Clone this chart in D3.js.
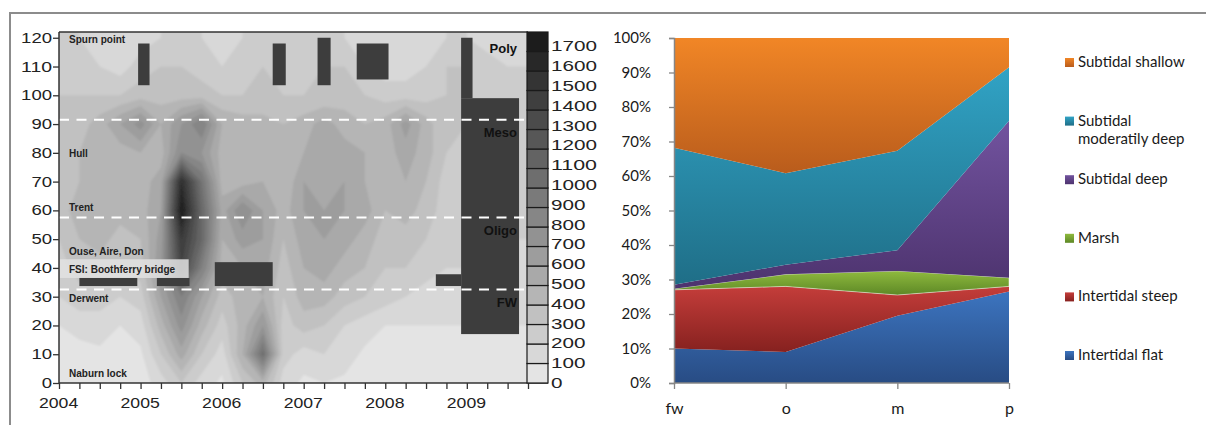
<!DOCTYPE html>
<html>
<head>
<meta charset="utf-8">
<script src="https://cdn.jsdelivr.net/npm/d3@7"></script>
<style>
  body { margin: 0; background: #fff; }
  svg { display: block; }
</style>
</head>
<body>
<script>
const years = [2004, 2004.25, 2004.5, 2004.75, 2005, 2005.25, 2005.5, 2005.75,
  2006, 2006.25, 2006.5, 2006.75, 2007, 2007.25, 2007.5, 2007.75,
  2008, 2008.25, 2008.5, 2008.75, 2009, 2009.25, 2009.5, 2009.75]
const kms = [120, 110, 100, 90, 80, 70, 60, 50, 40, 30, 20, 10, 0]
const heat = [
  [200,200,150,120,150,200,250,200,150,200,250,200,200,250,200,150,120,120,150,200,200,150,150,150],
  [250,250,200,150,250,300,300,250,200,250,300,250,250,300,300,200,150,150,200,300,300,250,200,200],
  [300,300,300,300,350,350,350,350,300,300,300,300,300,300,350,300,250,250,250,300,300,250,200,200],
  [300,350,450,600,750,500,700,900,500,450,450,400,450,550,450,400,450,650,450,300,300,250,250,250],
  [350,400,400,450,500,450,800,700,450,400,450,400,500,550,550,500,450,550,450,300,250,250,250,250],
  [350,400,450,400,450,550,1600,1000,450,450,500,400,600,550,600,500,450,500,400,250,250,250,200,200],
  [350,450,500,450,450,600,1750,1100,550,800,600,450,600,600,600,550,400,450,350,250,250,200,200,200],
  [300,400,450,350,400,650,1500,1100,500,650,600,400,550,600,550,450,350,350,300,200,200,200,200,200],
  [250,350,350,300,350,700,1400,900,450,500,550,350,500,550,450,400,300,300,250,200,200,150,150,150],
  [200,250,250,200,250,600,900,600,350,450,500,300,450,450,350,300,250,200,150,150,150,100,100,100],
  [100,150,150,100,150,450,750,450,250,450,700,250,350,300,200,150,100,100,100,100,100,100,100,100],
  [50,50,80,50,80,300,550,300,150,500,1050,250,150,200,150,80,50,50,50,50,50,50,50,50],
  [50,50,50,50,50,150,300,150,80,300,450,150,80,100,80,50,50,50,50,50,50,50,50,50]
]
const levels = d3.range(0, 1800, 100)
const yearTicks = [2004, 2005, 2006, 2007, 2008, 2009]
const kmTicks = d3.range(0, 121, 10)

// blocked-out periods: [from year, to year, from km, to km]
const gaps = [
  [2004.97, 2005.11, 103.5, 118],
  [2006.62, 2006.78, 103.5, 118],
  [2007.17, 2007.33, 103.5, 120],
  [2007.65, 2008.04, 105.5, 118],
  [2008.93, 2009.07, 99, 120],
  [2008.93, 2009.64, 17, 99],
  [2008.62, 2008.93, 33.7, 37.8],
  [2004.25, 2004.96, 33.7, 36.5],
  [2005.2, 2005.6, 33.7, 36.5],
  [2005.91, 2006.62, 33.7, 42]
]
const zoneLines = [91.5, 57.5, 32.5]
const zoneNames = ["Poly", "Meso", "Oligo", "FW"]
const zoneKm = [114.7, 85.5, 51.4, 26.4]
const places = ["Spurn point", "Hull", "Trent", "Ouse, Aire, Don", "FSI: Boothferry bridge", "Derwent", "Naburn lock"]
const placeKm = [118.2, 78.6, 59.8, 44.5, 38.2, 28.2, 2.1]

// ---- right panel: habitat shares per salinity zone (%) ----
const zones = ["fw", "o", "m", "p"]
const habitats = ["Intertidal flat", "Intertidal steep", "Marsh", "Subtidal deep", "Subtidal moderatily deep", "Subtidal shallow"]
const intertidalFlat = [10, 9, 19.5, 26.5]
const intertidalSteep = [17, 19, 6, 1.5]
const marsh = [0.3, 3.5, 7, 2.5]
const subtidalDeep = [1.2, 2.8, 6, 45.5]
const subtidalModerate = [39.7, 26.5, 28.8, 15.5]
const subtidalShallow = [31.8, 39.2, 32.7, 8.5]
const pctTicks = d3.range(0, 101, 10)

const seriesValues = [intertidalFlat, intertidalSteep, marsh, subtidalDeep, subtidalModerate, subtidalShallow]
const gradTop = ["#3c74bf", "#c43d3a", "#8fba3e", "#72539f", "#31a3c5", "#f18626"]
const gradBottom = ["#284c84", "#86211f", "#5d8826", "#4d336e", "#1f6e87", "#b95c1c"]

const W = 1206, H = 425
const svg = d3.select("body").append("svg").attr("width", W).attr("height", H)
const defs = svg.append("defs")

// outer frame
svg.append("line").attr("x1", 10).attr("x2", W).attr("y1", 13).attr("y2", 13)
  .attr("stroke", "#8c8c8c").attr("stroke-width", 2)
svg.append("line").attr("x1", 10).attr("x2", 10).attr("y1", 12).attr("y2", H)
  .attr("stroke", "#8c8c8c").attr("stroke-width", 2)

// ================= left panel =================
const x = d3.scaleLinear().domain([2004, 2009.75]).range([59, 528])
const y = d3.scaleLinear().domain([0, 122]).range([383, 32])
const grey = k => { const g = Math.round(228 - k * 200 / 17); return d3.rgb(g, g, g).toString() }

defs.append("clipPath").attr("id", "plotclip").append("rect")
  .attr("x", x(2004)).attr("y", y(122)).attr("width", x(2009.75) - x(2004)).attr("height", y(0) - y(122))
defs.append("filter").attr("id", "soft").append("feGaussianBlur").attr("stdDeviation", 1.2)

const nx = years.length, ny = kms.length
const contours = d3.contours().size([nx, ny]).thresholds(levels)(heat.flat())
const gx = d3.scaleLinear().domain([0.5, nx - 0.5]).range([x(years[0]), x(years[nx - 1])])
const gy = d3.scaleLinear().domain([0.5, ny - 0.5]).range([y(kms[0]), y(kms[ny - 1])])
const proj = d3.geoTransform({ point(px, py) { this.stream.point(gx(px), gy(py)) } })
const geo = d3.geoPath(proj)

const plot = svg.append("g").attr("clip-path", "url(#plotclip)")
plot.append("rect").attr("x", 40).attr("y", 20).attr("width", 520).attr("height", 380).attr("fill", grey(1))
plot.append("g").attr("filter", "url(#soft)")
  .selectAll("path").data(contours).join("path")
  .attr("d", geo)
  .attr("fill", (d, i) => grey(i))

// light box behind the FSI label
plot.append("rect")
  .attr("x", x(2004.01)).attr("y", y(43)).attr("width", x(2005.59) - x(2004.01)).attr("height", y(36.5) - y(43))
  .attr("fill", "#e2e2e2").attr("opacity", 0.85)

plot.selectAll("rect.gap").data(gaps).join("rect").attr("class", "gap")
  .attr("x", d => x(d[0])).attr("width", d => x(d[1]) - x(d[0]))
  .attr("y", d => y(d[3])).attr("height", d => y(d[2]) - y(d[3]))
  .attr("fill", "#3d3d3d")

plot.selectAll("line.zone").data(zoneLines).join("line").attr("class", "zone")
  .attr("x1", x(2004)).attr("x2", x(2009.75) - 3)
  .attr("y1", d => y(d)).attr("y2", d => y(d))
  .attr("stroke", "#fff").attr("stroke-width", 2).attr("stroke-dasharray", "10,7.5")

svg.append("g").selectAll("text").data(places).join("text")
  .attr("x", 69).attr("y", (d, i) => y(placeKm[i]))
  .attr("font-family", "Liberation Sans, Arial, sans-serif").attr("font-weight", "bold")
  .attr("font-size", 10).attr("fill", "#222").text(d => d)

svg.append("g").selectAll("text").data(zoneNames).join("text")
  .attr("x", 517).attr("y", (d, i) => y(zoneKm[i])).attr("text-anchor", "end")
  .attr("font-family", "Liberation Sans, Arial, sans-serif").attr("font-weight", "bold")
  .attr("font-size", 13).attr("fill", "#111").text(d => d)

// plot frame top
svg.append("line").attr("x1", x(2004)).attr("x2", x(2009.75)).attr("y1", y(122)).attr("y2", y(122))
  .attr("stroke", "#333").attr("stroke-width", 1.5)

const wide = (sel, per) => sel.attr("textLength", d => String(d).length * per).attr("lengthAdjust", "spacingAndGlyphs")

// y axis
const yAxis = svg.append("g").attr("transform", `translate(${x(2004)},0)`)
  .call(d3.axisLeft(y).tickValues(kmTicks).tickSize(6).tickFormat(""))
yAxis.select(".domain").attr("stroke", "#333").attr("stroke-width", 1.5).attr("d", `M0,${y(122)}V${y(0)}`)
yAxis.selectAll(".tick line").attr("stroke", "#333").attr("stroke-width", 1.3)
svg.append("g").selectAll("text").data(kmTicks).join("text")
  .attr("x", 52).attr("y", d => y(d) + 5).attr("text-anchor", "end")
  .attr("font-family", "Liberation Sans, Arial, sans-serif").attr("font-size", 15).attr("fill", "#222")
  .text(d => d).call(wide, 10.3)

// x axis
const quarterTicks = d3.range(0, 24).map(i => 2004 + i * 0.25)
const xAxis = svg.append("g").attr("transform", `translate(0,${y(0)})`)
  .call(d3.axisBottom(x).tickValues(quarterTicks).tickSize(6).tickFormat(""))
xAxis.select(".domain").attr("stroke", "#333").attr("stroke-width", 1.5).attr("d", `M${x(2004)},0H${x(2009.75) + 20}`)
xAxis.selectAll(".tick line").attr("stroke", "#333").attr("stroke-width", 1.3)
svg.append("g").selectAll("text").data(yearTicks).join("text")
  .attr("x", d => x(d) - 20).attr("y", 408)
  .attr("font-family", "Liberation Sans, Arial, sans-serif").attr("font-size", 15).attr("fill", "#222")
  .text(d => d).call(wide, 9.8)

// colour bar
const cb = d3.scaleLinear().domain([0, 1800]).range([383, 32])
svg.append("g").selectAll("rect").data(levels).join("rect")
  .attr("x", 527).attr("width", 21)
  .attr("y", d => cb(d + 100)).attr("height", d => cb(d) - cb(d + 100))
  .attr("fill", (d, i) => grey(i)).attr("stroke", "#1a1a1a").attr("stroke-width", 1.2)
svg.append("g").selectAll("text").data(levels).join("text")
  .attr("x", 551).attr("y", d => cb(d) - d * 0.003 + 5)
  .attr("font-family", "Liberation Sans, Arial, sans-serif").attr("font-size", 15).attr("fill", "#222")
  .text(d => d).call(wide, 11.5)

// ================= right panel =================
const xc = d3.scalePoint().domain(zones).range([674, 1009])
const yc = d3.scaleLinear().domain([0, 100]).range([383, 38])

const table = zones.map((z, i) => {
  const row = { zone: z }
  habitats.forEach((h, j) => { row[h] = seriesValues[j][i] })
  return row
})
const stacked = d3.stack().keys(habitats)(table)

habitats.forEach((h, i) => {
  const g = defs.append("linearGradient").attr("id", "hab" + i)
    .attr("x1", 0).attr("y1", 0).attr("x2", 0).attr("y2", 1)
  g.append("stop").attr("offset", 0).attr("stop-color", gradTop[i])
  g.append("stop").attr("offset", 1).attr("stop-color", gradBottom[i])
})

const area = d3.area().x(d => xc(d.data.zone)).y0(d => yc(d[0])).y1(d => yc(d[1]))
svg.append("g").selectAll("path").data(stacked).join("path")
  .attr("d", area)
  .attr("fill", (d, i) => `url(#hab${i})`)
  .attr("stroke", (d, i) => i === 2 ? "rgba(255,255,255,0.6)" : "none")
  .attr("stroke-width", 0.8)

const font = "Lato, 'Open Sans', sans-serif"
const ya = svg.append("g").attr("transform", `translate(${xc("fw")},0)`)
  .call(d3.axisLeft(yc).tickValues(pctTicks).tickSize(5).tickPadding(18).tickFormat(d => d + "%"))
ya.select(".domain").attr("stroke", "#868686").attr("stroke-width", 1.5)
ya.selectAll(".tick line").attr("stroke", "#868686").attr("stroke-width", 1.3)
ya.selectAll("text").attr("font-family", font).attr("font-size", 15).attr("fill", "#1a1a1a")

const xa = svg.append("g").attr("transform", `translate(0,${yc(0)})`)
  .call(d3.axisBottom(xc).tickSize(6).tickPadding(14))
xa.select(".domain").attr("stroke", "#868686").attr("stroke-width", 1.5).attr("d", `M${xc("fw")},0H${xc("p")}`)
xa.selectAll(".tick line").attr("stroke", "#868686").attr("stroke-width", 1.3)
xa.selectAll("text").attr("font-family", font).attr("font-size", 16).attr("fill", "#1a1a1a")

// legend, top to bottom
const legendOrder = habitats.map((h, i) => i).reverse()
const legendLines = { "Subtidal moderatily deep": ["Subtidal", "moderatily deep"] }
const leg = svg.append("g").selectAll("g").data(legendOrder).join("g")
  .attr("transform", (d, k) => `translate(1065,${67 + k * 58.6})`)
leg.append("rect").attr("x", 0).attr("y", -9).attr("width", 9).attr("height", 9)
  .attr("fill", d => `url(#hab${d})`)
leg.append("text").attr("x", 13).attr("y", 0)
  .attr("font-family", font).attr("font-size", 15).attr("fill", "#1a1a1a")
  .selectAll("tspan").data(d => legendLines[habitats[d]] || [habitats[d]]).join("tspan")
  .attr("x", 13).attr("dy", (d, i) => i === 0 ? 0 : 18.5).text(d => d)
</script>
</body>
</html>
